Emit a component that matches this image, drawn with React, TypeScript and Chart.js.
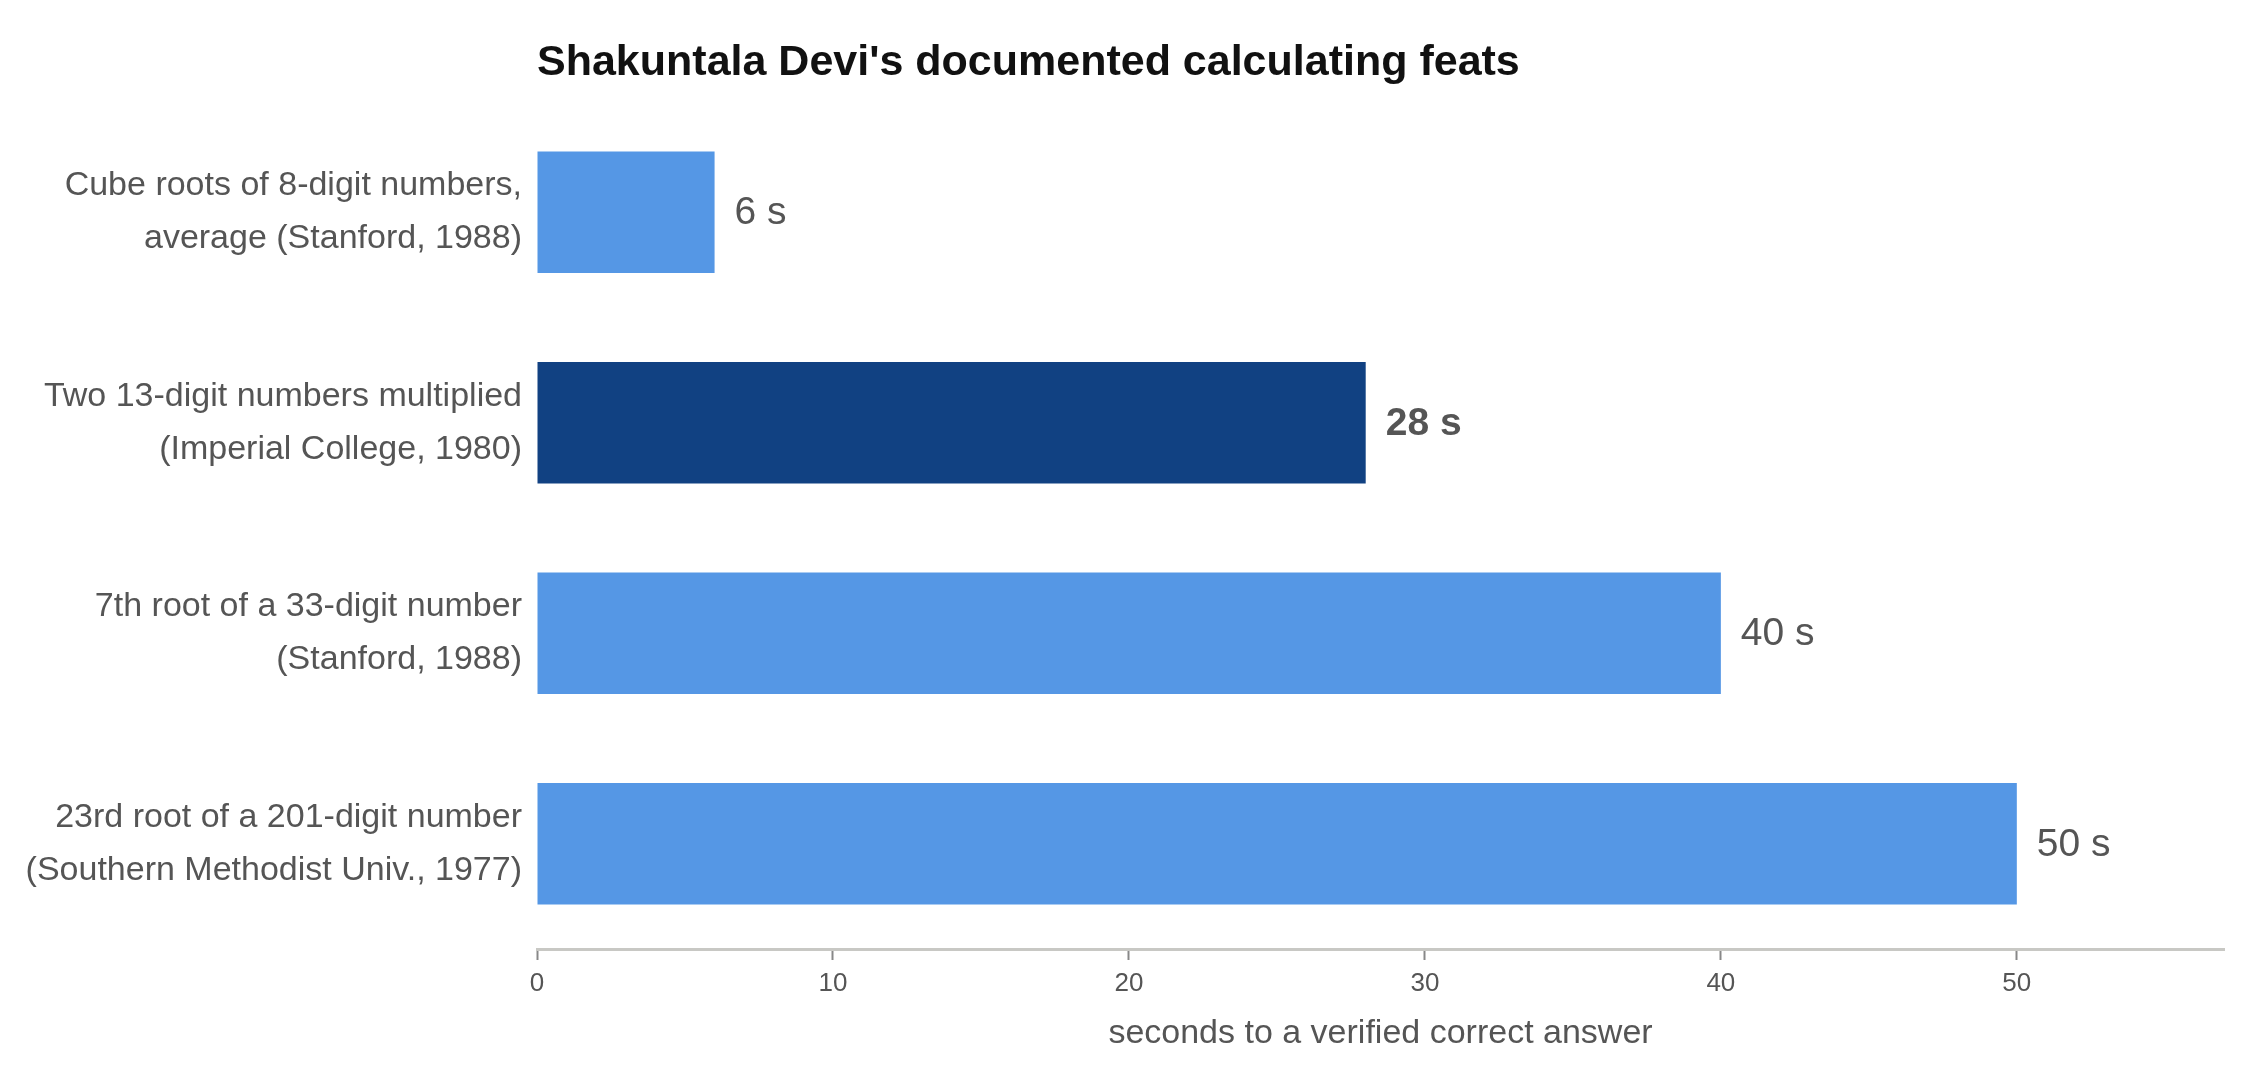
import { useEffect, useRef } from 'react';
import { Chart, registerables } from 'chart.js';

Chart.register(...registerables);

const TITLE = "Shakuntala Devi's documented calculating feats";
const AXIS_TITLE = 'seconds to a verified correct answer';

const feats: string[][] = [
    ['Cube roots of 8-digit numbers,', 'average (Stanford, 1988)'],
    ['Two 13-digit numbers multiplied', '(Imperial College, 1980)'],
    ['7th root of a 33-digit number', '(Stanford, 1988)'],
    ['23rd root of a 201-digit number', '(Southern Methodist Univ., 1977)'],
];
const seconds = [6, 28, 40, 50];
const highlighted = [false, true, false, false];
const xTicks = [0, 10, 20, 30, 40, 50];
const xMax = 57;

const FONT = '"Liberation Sans", Arial, Helvetica, sans-serif';
const TEXT = '#555555';
const BLUE = '#5597e5';
const NAVY = '#114182';

const W = 2256;
const H = 1080;

// title, left-aligned with the plot area
const titlePlugin = {
    id: 'leftTitle',
    afterDraw(chart: Chart) {
        const { ctx, chartArea } = chart;
        ctx.save();
        ctx.font = `bold 43px ${FONT}`;
        ctx.fillStyle = '#111111';
        ctx.textAlign = 'left';
        ctx.textBaseline = 'alphabetic';
        ctx.fillText(TITLE, chartArea.left, 75);
        ctx.restore();
    },
};

// "N s" labels just past the end of each bar
const valueLabels = {
    id: 'valueLabels',
    afterDatasetsDraw(chart: Chart) {
        const { ctx } = chart;
        const meta = chart.getDatasetMeta(0);
        ctx.save();
        ctx.fillStyle = TEXT;
        ctx.textAlign = 'left';
        ctx.textBaseline = 'middle';
        meta.data.forEach((bar: any, i: number) => {
            ctx.font = `${highlighted[i] ? 'bold ' : ''}39px ${FONT}`;
            ctx.fillText(`${seconds[i]} s`, bar.x + 20, bar.y + 1);
        });
        ctx.restore();
    },
};

export default function App() {
    const canvasRef = useRef<HTMLCanvasElement>(null);
    const chartRef = useRef<Chart | null>(null);

    useEffect(() => {
        document.body.style.margin = '0';
        document.body.style.background = '#ffffff';
        if (!canvasRef.current) return;
        if (chartRef.current) chartRef.current.destroy();

        chartRef.current = new Chart(canvasRef.current, {
            type: 'bar',
            data: {
                labels: feats,
                datasets: [
                    {
                        data: seconds,
                        backgroundColor: highlighted.map((h) => (h ? NAVY : BLUE)),
                        borderWidth: 0,
                        barPercentage: 0.578,
                        categoryPercentage: 1,
                    },
                ],
            },
            options: {
                indexAxis: 'y',
                animation: false,
                responsive: false,
                maintainAspectRatio: false,
                layout: { padding: { top: 107, right: 32, bottom: 0, left: 0 } },
                plugins: {
                    legend: { display: false },
                    title: { display: false },
                    tooltip: { enabled: false },
                },
                scales: {
                    x: {
                        type: 'linear',
                        min: 0,
                        max: xMax,
                        afterBuildTicks: (scale: any) => {
                            scale.ticks = xTicks.map((v) => ({ value: v }));
                        },
                        afterFit: (scale: any) => {
                            scale.height = 131;
                        },
                        grid: {
                            display: true,
                            drawOnChartArea: false,
                            drawTicks: true,
                            tickLength: 11,
                            tickWidth: 2,
                            tickColor: '#888888',
                        },
                        border: { display: true, color: '#c8c8c4', width: 3 },
                        ticks: {
                            color: TEXT,
                            padding: 8,
                            font: { family: FONT, size: 26 },
                        },
                        title: {
                            display: true,
                            text: AXIS_TITLE,
                            color: TEXT,
                            font: { family: FONT, size: 34 },
                            padding: { top: 0, bottom: 26 },
                        },
                    },
                    y: {
                        afterFit: (scale: any) => {
                            scale.width = 537;
                        },
                        grid: { display: false },
                        border: { display: false },
                        ticks: {
                            color: TEXT,
                            padding: 7,
                            font: { family: FONT, size: 34, lineHeight: 1.56 },
                        },
                    },
                },
            },
            plugins: [titlePlugin, valueLabels],
        });

        return () => {
            chartRef.current?.destroy();
            chartRef.current = null;
        };
    }, []);

    return (
        <div style={{ width: W, height: H, background: '#ffffff' }}>
            <canvas ref={canvasRef} width={W} height={H} style={{ width: W, height: H }} />
        </div>
    );
}
